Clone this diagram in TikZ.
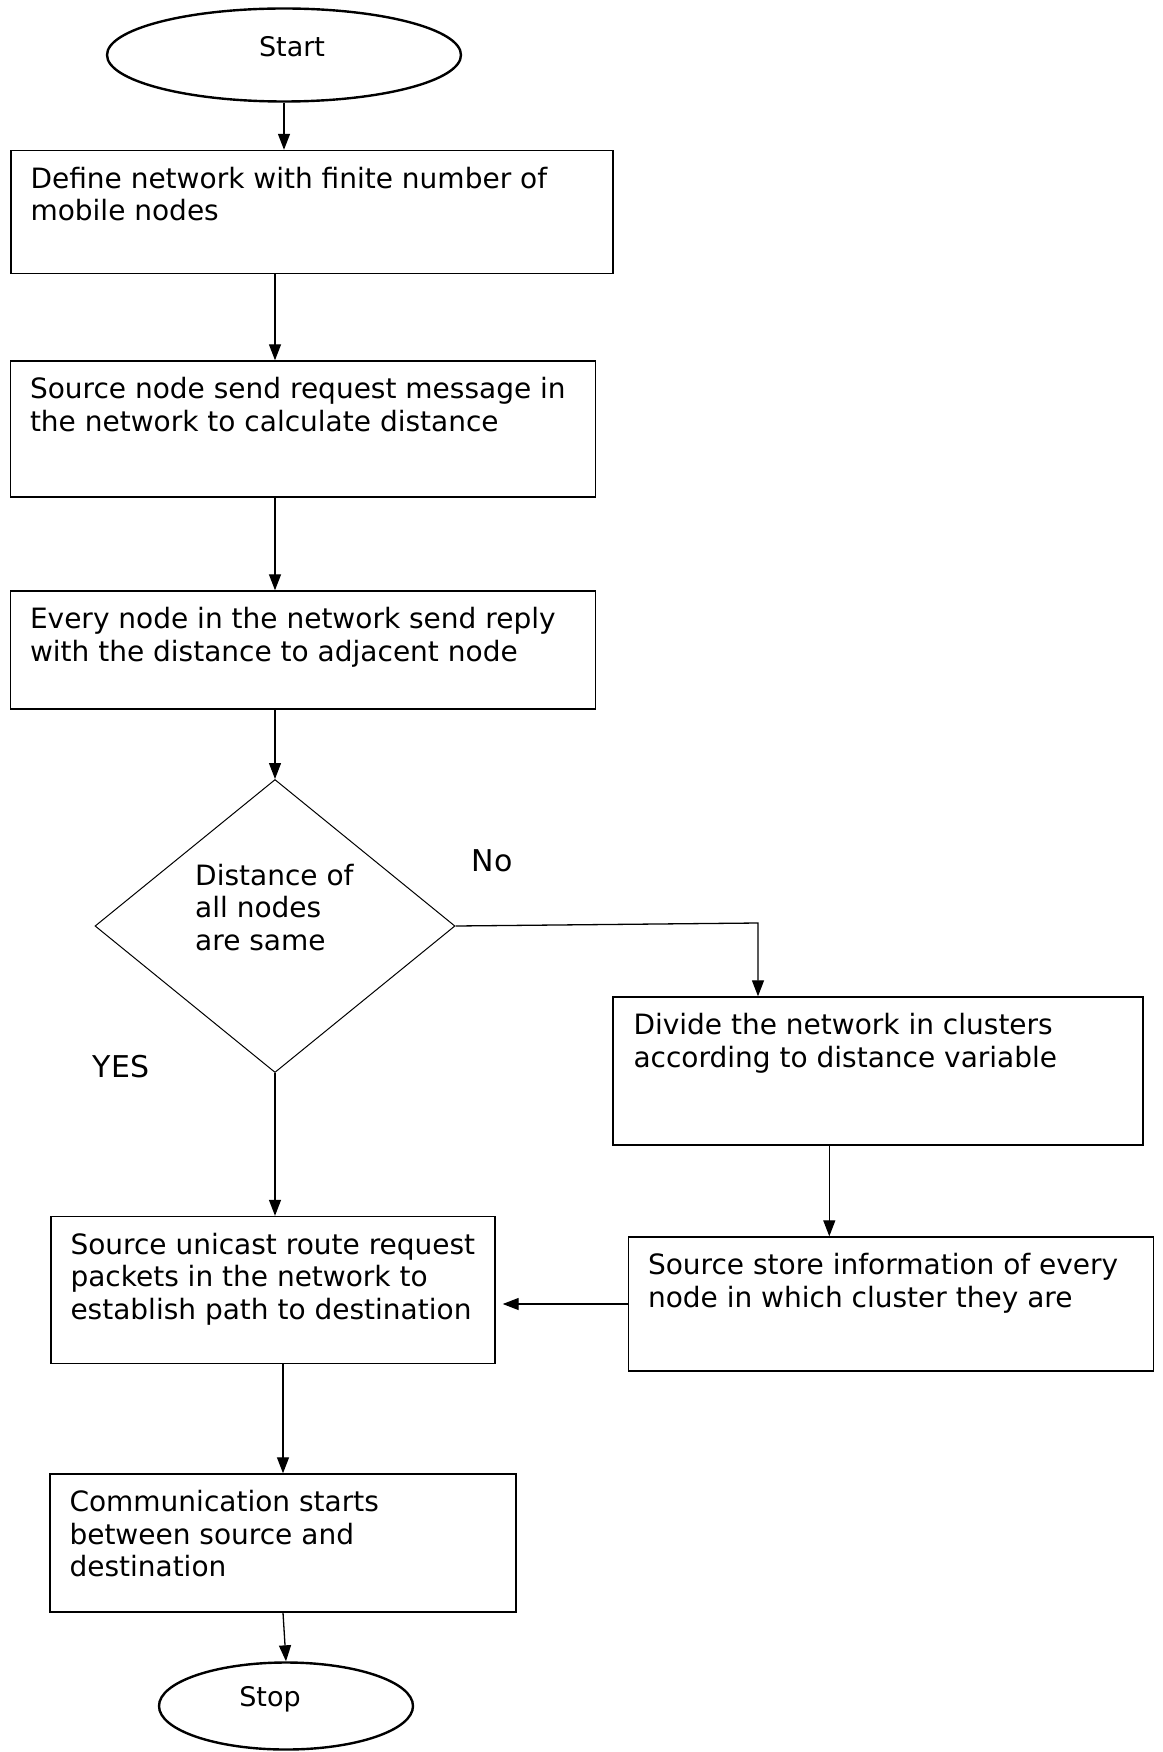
\documentclass[tikz,border=0pt]{standalone}
\usepackage{fontspec}
\setmainfont{DejaVu Sans}
\usetikzlibrary{shapes.geometric,arrows.meta}

\begin{document}
\begin{tikzpicture}[x=1pt,y=-1pt,
    box/.style={draw,line width=1.4pt,inner sep=0pt},
    term/.style={draw,ellipse,line width=2.4pt,inner sep=0pt},
    txt/.style={anchor=north west,align=left,inner sep=0pt,font=\fontsize{28}{32.4}\selectfont},
    word/.style={inner sep=0pt,font=\fontsize{27}{32.4}\selectfont},
    lbl/.style={inner sep=0pt,font=\fontsize{30}{34}\selectfont},
    arr/.style={line width=1.3pt,-{Triangle[length=16pt,width=12pt]}}]
    \useasboundingbox (0,0) rectangle (1162,1752);
    % terminals and decision
    \node [term,minimum width=354pt,minimum height=93pt] (start) at (284,55) {};
    \node [word] (starttxt) at (292,47) {Start};
    \node [term,minimum width=254pt,minimum height=87pt] (stop) at (286,1706) {};
    \node [word] (stoptxt) at (270,1699) {Stop};
    \node [draw,diamond,minimum width=360pt,minimum height=293pt,inner sep=0pt,line width=1pt] (dec) at (275,926) {};
    \node [txt] (dectxt) at (195,864) {Distance of\\all nodes\\are same};
    % process boxes
    \node [box,minimum width=602pt,minimum height=123pt] (b1) at (312,212) {};
    \node [box,minimum width=585pt,minimum height=136pt] (b2) at (303,429) {};
    \node [box,minimum width=585pt,minimum height=118pt] (b3) at (303,650) {};
    \node [box,minimum width=530pt,minimum height=148pt] (b4) at (878,1071) {};
    \node [box,minimum width=525pt,minimum height=134pt] (b5) at (891,1304) {};
    \node [box,minimum width=444pt,minimum height=147pt] (b6) at (273,1290) {};
    \node [box,minimum width=466pt,minimum height=138pt] (b7) at (283,1543) {};
    \node [txt] (t1) at ([shift={(20,17)}]b1.north west) {Define network with finite number of\\mobile nodes};
    \node [txt] (t2) at ([shift={(20,17)}]b2.north west) {Source node send request message in\\the network to calculate distance};
    \node [txt] (t3) at ([shift={(20,17)}]b3.north west) {Every node in the network send reply\\with the distance to adjacent node};
    \node [txt] (t4) at ([shift={(21,17)}]b4.north west) {Divide the network in clusters\\according to distance variable};
    \node [txt] (t5) at ([shift={(20,17)}]b5.north west) {Source store information of every\\node in which cluster they are};
    \node [txt] (t6) at ([shift={(20,17)}]b6.north west) {Source unicast route request\\packets in the network to\\establish path to destination};
    \node [txt] (t7) at ([shift={(20,17)}]b7.north west) {Communication starts\\between source and\\destination};
    \node [lbl] (no) at (492,861) {No};
    \node [lbl] (yes) at (121,1067) {YES};
    % connectors
    \coordinate (nocorner) at (758,923);
    \coordinate (b4out) at ([xshift=217pt]b4.south west);
    \draw [arr] (start.south) -- (start.south |- b1.north);
    \draw [arr] (b1.south -| dec.north) -- (b2.north -| dec.north);
    \draw [arr] (b2.south -| dec.north) -- (b3.north -| dec.north);
    \draw [arr] (b3.south -| dec.north) -- (dec.north);
    \draw [arr] (dec.south) -- (dec.south |- b6.north);
    \draw [arr] (dec.east) -- (nocorner) -- (nocorner |- b4.north);
    \draw [arr] (b4out) -- (b4out |- b5.north);
    \draw [arr,shorten >=7pt] (b5.west) -- (b5.west -| b6.east);
    \draw [arr] (b6.south -| b7.north) -- (b7.north);
    \draw [arr] (b7.south) -- (stop.north);
\end{tikzpicture}
\end{document}
